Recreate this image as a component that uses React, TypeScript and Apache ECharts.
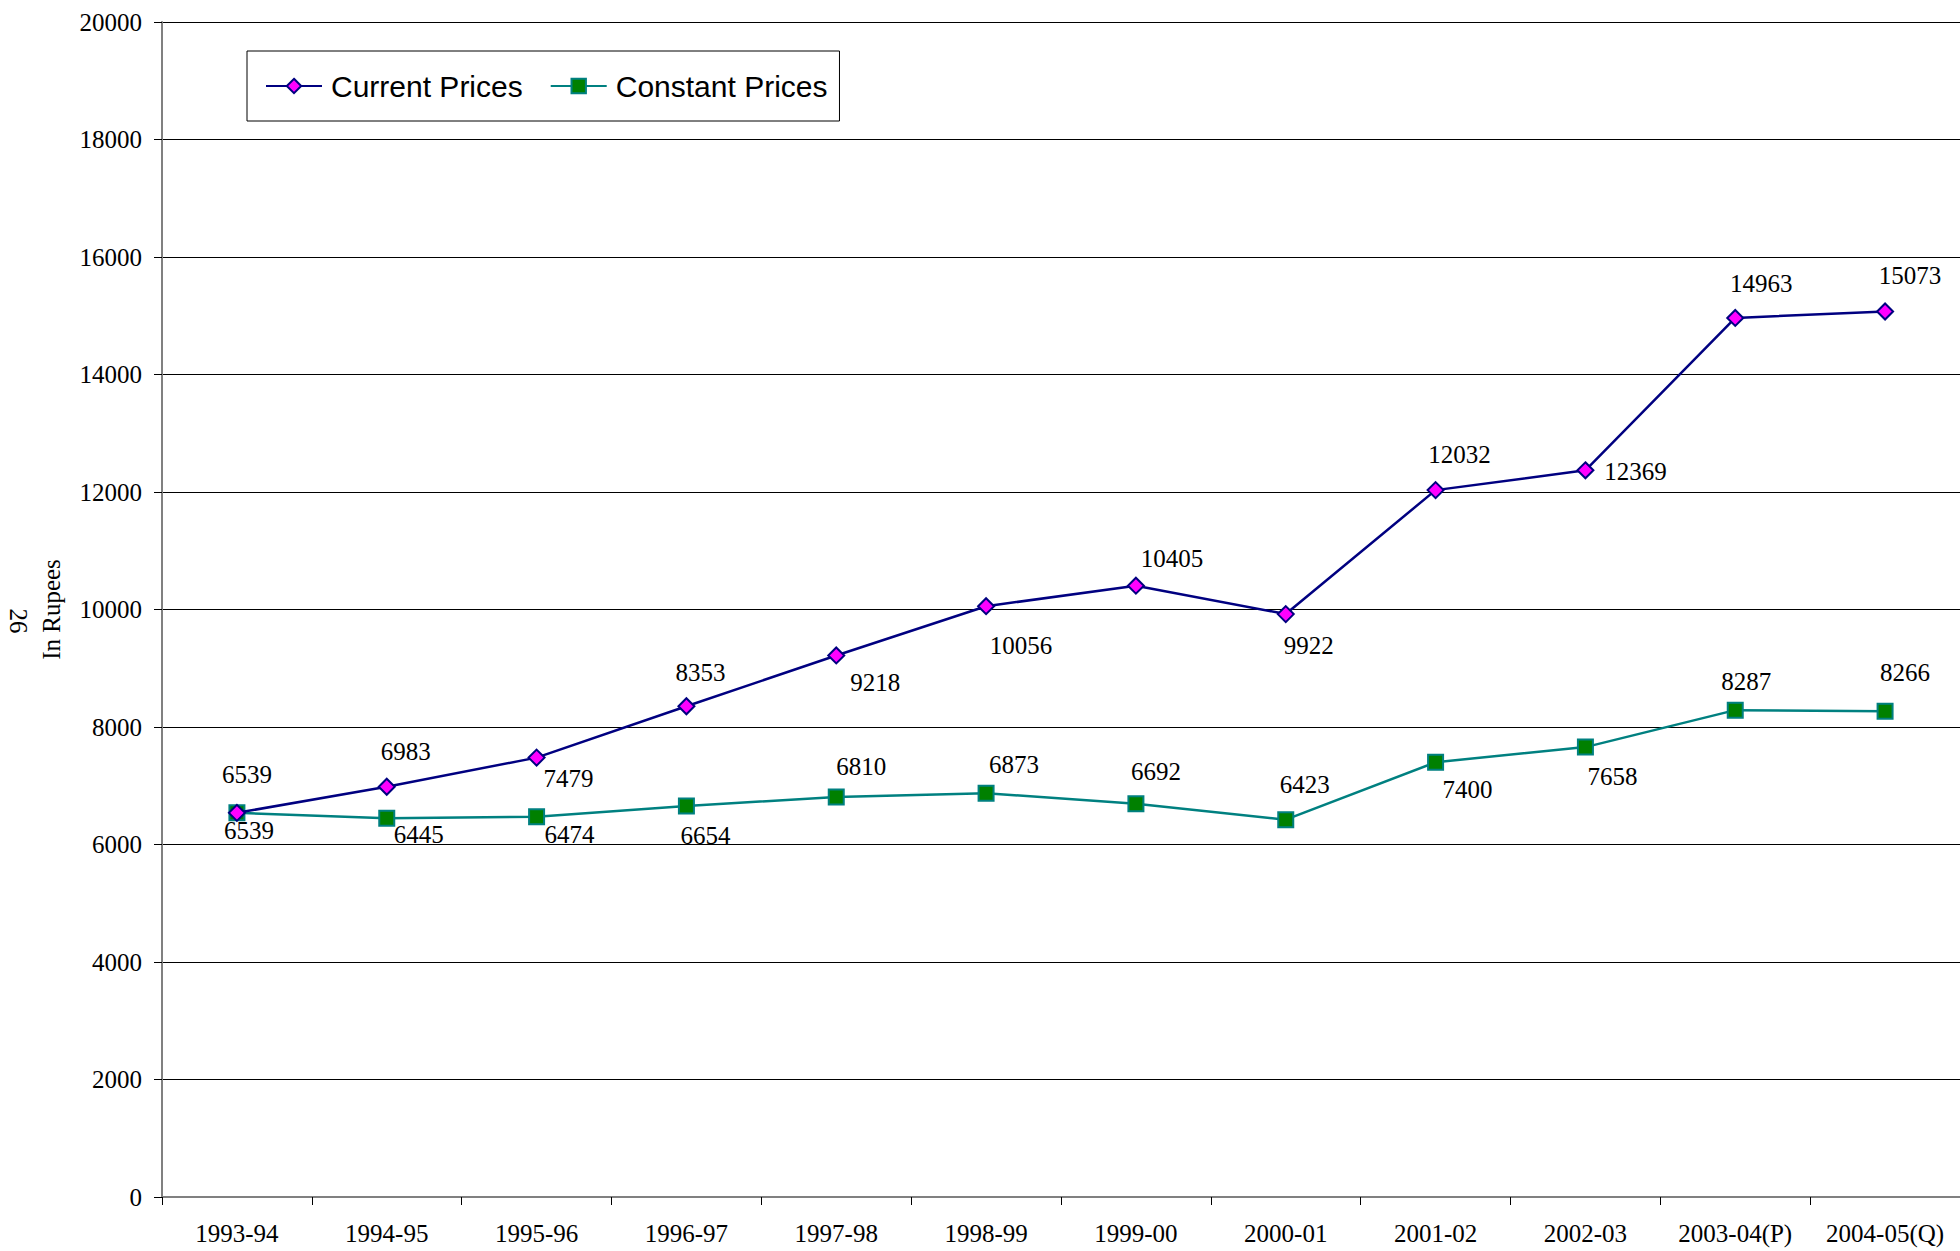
import React, { useEffect, useRef } from "react";
import * as echarts from "echarts";

const categories = [
  "1993-94", "1994-95", "1995-96", "1996-97", "1997-98", "1998-99",
  "1999-00", "2000-01", "2001-02", "2002-03", "2003-04(P)", "2004-05(Q)",
];
const currentPrices = [6539, 6983, 7479, 8353, 9218, 10056, 10405, 9922, 12032, 12369, 14963, 15073];
const constantPrices = [6539, 6445, 6474, 6654, 6810, 6873, 6692, 6423, 7400, 7658, 8287, 8266];
const yTicks = { min: 0, max: 20000, interval: 2000 };

// label placement offsets (dx, dy) from each marker
const currentLabelOffsets = [
  [10, -38], [19, -35], [32, 21], [14, -34], [39, 27], [35, 39],
  [36, -27], [23, 31], [24, -36], [50, 1], [26, -34], [25, -36],
];
const constantLabelOffsets = [
  [12, 18], [32, 16], [33, 18], [19, 29], [25, -30], [28, -29],
  [20, -32], [19, -35], [32, 27], [27, 29], [11, -29], [20, -39],
];

const SERIF = "'Liberation Serif', 'Times New Roman', serif";
const SANS = "'Liberation Sans', Arial, sans-serif";

export default function App() {
  const ref = useRef<HTMLDivElement>(null);
  useEffect(() => {
    if (!ref.current) return;
    const chart = echarts.init(ref.current, undefined, { renderer: "svg" });
    const mk = (vals: number[], offs: number[][]) =>
      vals.map((v, i) => ({
        value: v,
        label: { offset: offs[i] },
      }));
    chart.setOption({
      animation: false,
      backgroundColor: "#fff",
      textStyle: { fontFamily: SERIF },
      grid: { left: 162, right: 0, top: 22, bottom: 54 },
      legend: {
        left: 247,
        top: 51,
        padding: [20, 12, 20, 18],
        borderColor: "#000",
        borderWidth: 1,
        itemWidth: 56,
        itemHeight: 18,
        itemGap: 27,
        textStyle: { fontFamily: SANS, fontSize: 30, color: "#000", padding: [0, 0, 0, 4] },
        data: ["Current Prices", "Constant Prices"],
      },
      xAxis: {
        type: "category",
        data: categories,
        boundaryGap: true,
        axisLine: { lineStyle: { color: "#808080", width: 2 } },
        axisTick: { show: true, length: 8, lineStyle: { color: "#000", width: 1 } },
        axisLabel: { interval: 0, fontFamily: SERIF, fontSize: 25, color: "#000", margin: 24 },
        splitLine: { show: false },
      },
      yAxis: {
        type: "value",
        min: yTicks.min,
        max: yTicks.max,
        interval: yTicks.interval,
        name: "In Rupees",
        nameLocation: "middle",
        nameGap: 98,
        nameRotate: 90,
        nameTextStyle: { fontFamily: SERIF, fontSize: 25, color: "#000" },
        axisLine: { show: true, lineStyle: { color: "#808080", width: 2 } },
        axisTick: { show: true, length: 8, lineStyle: { color: "#000", width: 1 } },
        axisLabel: {
          fontFamily: SERIF,
          fontSize: 25,
          color: "#000",
          margin: 20,
          formatter: (v: number) => String(v),
        },
        splitLine: { show: true, lineStyle: { color: "#000", width: 1 } },
      },
      graphic: [
        {
          type: "text",
          x: 18,
          y: 621,
          rotation: -Math.PI / 2,
          style: {
            text: "26",
            font: `25px ${SERIF}`,
            fill: "#000",
            textAlign: "center",
            textVerticalAlign: "middle",
          },
        },
      ],
      series: [
        {
          name: "Current Prices",
          type: "line",
          data: mk(currentPrices, currentLabelOffsets),
          symbol: "diamond",
          symbolSize: 16,
          showAllSymbol: true,
          lineStyle: { color: "#000080", width: 2.5 },
          itemStyle: { color: "#FF00FF", borderColor: "#000080", borderWidth: 2 },
          label: {
            show: true,
            position: "inside",
            fontFamily: SERIF,
            fontSize: 25,
            color: "#000",
          },
          z: 3,
        },
        {
          name: "Constant Prices",
          type: "line",
          data: mk(constantPrices, constantLabelOffsets),
          symbol: "rect",
          symbolSize: 15,
          showAllSymbol: true,
          lineStyle: { color: "#008080", width: 2.5 },
          itemStyle: { color: "#008000", borderColor: "#008080", borderWidth: 2 },
          label: {
            show: true,
            position: "inside",
            fontFamily: SERIF,
            fontSize: 25,
            color: "#000",
          },
          z: 2,
        },
      ],
    });
    return () => chart.dispose();
  }, []);
  return (
    <div
      ref={ref}
      style={{ position: "fixed", left: 0, top: 0, width: 1960, height: 1251, background: "#fff" }}
    />
  );
}
